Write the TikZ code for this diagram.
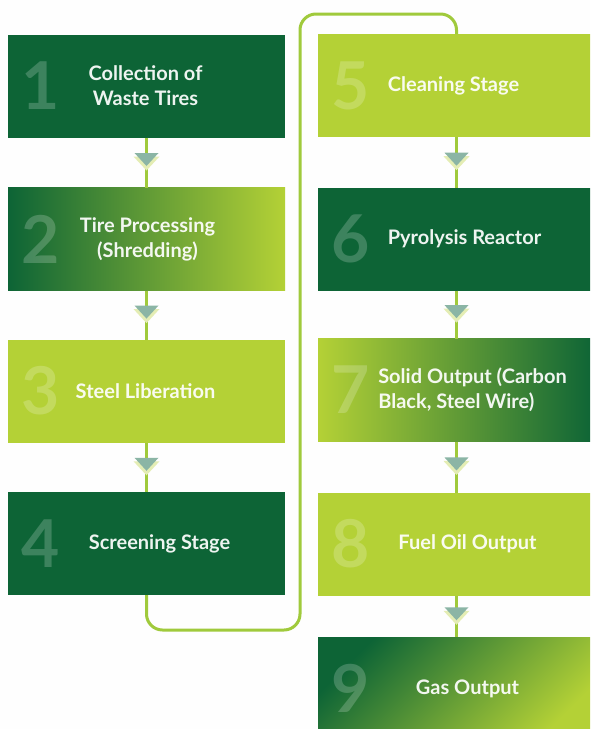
\documentclass[tikz,border=0pt]{standalone}
\usepackage{fontspec}
\setmainfont{Lato}
\usetikzlibrary{positioning,calc,decorations.markings}
\definecolor{deep}{HTML}{0D6436}
\definecolor{lime}{HTML}{B4D136}
\definecolor{wire}{HTML}{A0CA3C}
\definecolor{tip}{HTML}{8BB5A5}
\definecolor{glow}{HTML}{E4EDB4}
\tikzset{
  box/.style={minimum width=277pt, minimum height=103pt, inner sep=0pt, outer sep=0pt},
  dark/.style={fill=deep},
  light/.style={fill=lime},
  fadeR/.style={left color=deep, right color=lime},
  fadeL/.style={left color=lime, right color=deep},
  fadeD/.style={left color=deep, right color=lime, shading angle=45},
  digit/.style={text=white, text opacity=0.2, font=\fontsize{66}{66}\selectfont\bfseries, inner sep=0pt},
  caption/.style={text=white, text opacity=0.93, font=\fontsize{20}{25}\selectfont\bfseries, align=center, inner sep=0pt},
  link/.style={draw=wire, line width=3pt},
  flow/.style={link, decoration={markings, mark=at position 0.44 with {
      \fill[glow] (-3pt,-13pt) -- (-3pt,13pt) -- (11pt,0pt) -- cycle;
      \fill[tip] (-6.5pt,-12pt) -- (-6.5pt,12pt) -- (6.5pt,0pt) -- cycle;}},
    postaction={decorate}}}

\newcommand{\stage}[8]{% name, x, y, fill, digit, text shift, text, text align
  \node[box, #4] (#1) at (#2,#3) {};
  \node[digit] (#1n) at ([xshift=33pt]#1.west) {#5};
  \node[caption, align=#8] (#1t) at ([xshift=#6pt]#1.center) {#7};}

\begin{document}
\begin{tikzpicture}[x=1pt, y=-1pt]
\useasboundingbox (0,0) rectangle (590,729);
\clip (0,0) rectangle (590,729);
\fill[white!99!gray] (0,0) rectangle (590,729);
% left column
\stage{s1}{146.5}{86}{dark}{1}{-1}{Collection of\\Waste Tires}{center}
\stage{s2}{146.5}{239}{fadeR}{2}{1}{Tire Processing\\(Shredding)}{center}
\stage{s3}{146.5}{391}{light}{3}{-1}{Steel Liberation}{center}
\stage{s4}{146.5}{543.5}{dark}{4}{13}{Screening Stage}{center}
% right column
\stage{s5}{456.5}{85.5}{light}{5}{-3}{Cleaning Stage}{center}
\stage{s6}{456.5}{239}{dark}{6}{8}{Pyrolysis Reactor}{center}
\stage{s7}{456.5}{390}{fadeL}{7}{16}{Solid Output (Carbon\\Black, Steel Wire)}{left}
\stage{s8}{456.5}{544}{light}{8}{11}{Fuel Oil Output}{center}
\stage{s9}{456.5}{688.5}{fadeD}{9}{11}{Gas Output}{center}
% links between stages
\foreach \a/\b in {s1/s2, s2/s3, s3/s4, s5/s6, s6/s7, s7/s8, s8/s9}
  \draw[flow] (\a.south) -- (\b.north);
% turn from column one to column two
\coordinate (low) at (300,630);
\coordinate (high) at (300,14);
\draw[link, rounded corners=16pt] (s4.south) |- (low) -- (high) -| (s5.north);
\end{tikzpicture}
\end{document}
